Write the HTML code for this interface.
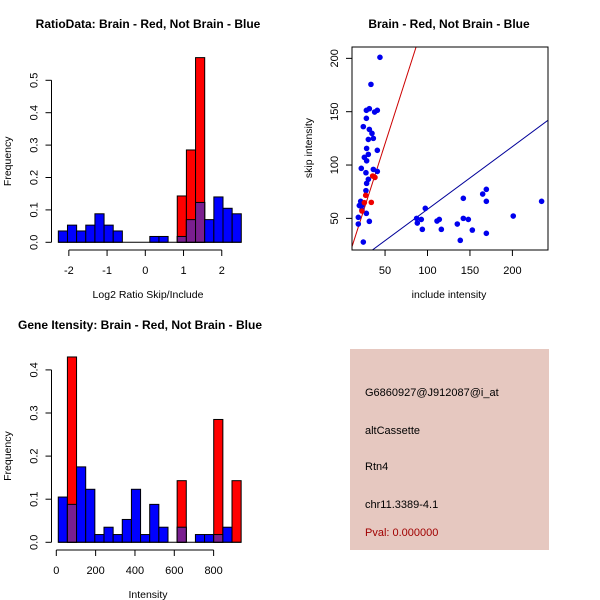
<!DOCTYPE html>
<html><head><meta charset="utf-8"><style>
html,body{margin:0;padding:0;background:#fff;}
svg{display:block;font-family:"Liberation Sans",sans-serif;}
</style></head><body>
<svg id="s" width="600" height="600" xmlns="http://www.w3.org/2000/svg">
<rect x="350" y="349" width="199" height="201" fill="#e6c8c0"/>
<g font-size="11">
<text x="365" y="396">G6860927@J912087@i_at</text>
<text x="365" y="434">altCassette</text>
<text x="365" y="470">Rtn4</text>
<text x="365" y="508">chr11.3389-4.1</text>
<text x="365" y="536" fill="#a00000">Pval: 0.000000</text>
</g>
</svg>
<script>
// Histogram 1: log2 ratio
const h1Blue=[0.035,0.053,0.035,0.053,0.088,0.053,0.035,0,0,0,0.018,0.018,0,0.018,0.07,0.123,0.07,0.14,0.105,0.088];
const h1Red=[0,0,0,0,0,0,0,0,0,0,0,0,0,0.143,0.285,0.57,0,0,0,0];
const h1Start=-2.275, h1Width=0.2393;
const h1XTicks=[-2,-1,0,1,2];
const h1YTicks=[0,0.1,0.2,0.3,0.4,0.5];
// Histogram 2: intensity
const h2Blue=[0.105,0.088,0.175,0.123,0.018,0.035,0.018,0.053,0.123,0.018,0.088,0.035,0,0.035,0,0.018,0.018,0.018,0.035,0];
const h2Red=[0,0.43,0,0,0,0,0,0,0,0,0,0,0,0.143,0,0,0,0.285,0,0.143];
const h2Start=10, h2Width=46.5;
const h2XTicks=[0,200,400,600,800];
const h2YTicks=[0,0.1,0.2,0.3,0.4];
// Scatter
const scBlueX=[44,33.4,28,31.5,37.7,40.9,28,24.4,31.5,34.6,30.3,36.2,28.3,40.9,30.3,25.6,28.3,22,36.2,40.9,27.5,30.3,28.3,27.5,21.3,22.8,19.7,22.8,18.5,18.5,28,31.5,24.4,87.2,88,92.7,93.9,97.4,111.2,113.9,116.3,135.1,142.2,142.2,138.6,148.1,152.8,165,169.3,169.3,169.3,201,234.4];
const scBlueY=[201,175.6,151.3,152.8,149.7,151.3,143.8,136,133.4,129.7,124,125,115.6,113.8,110,107.2,104,96.9,95.9,94,92.8,86.6,82.8,76,66,62,62,57.8,51,44.7,54.7,47.2,27.8,50,45.6,49,39.7,59.4,47.5,49,39.7,44.7,68.8,50,29.4,49,39,72.8,77.2,66,36,52.2,66];
const scRedX=[27.2,25.6,33.8,38.1,35.4,22.8];
const scRedY=[71.6,64.7,65,88.4,89.7,56.9];
const redLine=[2.48,-4];
const blueLine=[0.588,-0.3];
const scXTicks=[50,100,150,200];
const scYTicks=[50,100,150,200];

const NS="http://www.w3.org/2000/svg";
const svg=document.getElementById('s');
function mk(tag,attrs,parent){const e=document.createElementNS(NS,tag);for(const k in attrs)e.setAttribute(k,attrs[k]);(parent||svg).appendChild(e);return e;}
function txt(x,y,s,attrs){const e=mk('text',Object.assign({x:x,y:y,'font-size':11},attrs||{}));e.textContent=s;return e;}

function hist(blue,red,start,width,xS,yS,xTicks,yTicks,axisY,axisX,title,tx,ty,xlab,xlx,xly,name){
  const g=mk('g',{});
  
  
  const y0=yS(0);
  for(let i=0;i<blue.length;i++){
    const x1=xS(start+i*width),x2=xS(start+(i+1)*width);
    const b=blue[i],r=red[i];
    if(b>0){const e=mk('rect',{x:x1,y:yS(b),width:x2-x1,height:y0-yS(b),fill:'#0000ff',stroke:'#000','stroke-width':1},g);
      }
    if(r>0){const e=mk('rect',{x:x1,y:yS(r),width:x2-x1,height:y0-yS(r),fill:'#ff0000',stroke:'#000','stroke-width':1},g);
      }
    if(r>0&&b>0){const m=Math.min(r,b);const e=mk('rect',{x:x1,y:yS(m),width:x2-x1,height:y0-yS(m),fill:'#7a1f8f',stroke:'#000','stroke-width':1},g);
      }
  }
  mk('line',{x1:xS(start),x2:xS(start+blue.length*width),y1:y0,y2:y0,stroke:'#000'},g);
  const xa=mk('g',{},g);
  
  mk('line',{x1:xS(xTicks[0]),x2:xS(xTicks[xTicks.length-1]),y1:axisY,y2:axisY,stroke:'#000'},xa);
  xTicks.forEach(t=>{mk('line',{x1:xS(t),x2:xS(t),y1:axisY,y2:axisY+6,stroke:'#000'},xa);txt(xS(t),axisY+24,String(t),{'text-anchor':'middle'});});
  const ya=mk('g',{},g);
  
  mk('line',{x1:axisX,x2:axisX,y1:yS(yTicks[0]),y2:yS(yTicks[yTicks.length-1]),stroke:'#000'},ya);
  yTicks.forEach(t=>{const y=yS(t);mk('line',{x1:axisX-6,x2:axisX,y1:y,y2:y,stroke:'#000'},ya);
    const lx=axisX-14;
    const e=txt(lx,y,t.toFixed(1),{'text-anchor':'middle',transform:'rotate(-90 '+lx+' '+y+')'});});
  const tt=txt(tx,ty,title,{'font-weight':'bold','font-size':12,'text-anchor':'middle'});
  const xl=txt(xlx,xly,xlab,{'text-anchor':'middle','font-size':10.5});
  const my=(yS(yTicks[0])+yS(yTicks[yTicks.length-1]))/2;
  const yl=txt(11,my,'Frequency',{'text-anchor':'middle','font-size':10.5,transform:'rotate(-90 11 '+my+')'});
  
}
const h1x=v=>145.3+v*38.23, h1y=v=>242.3-v*324;
hist(h1Blue,h1Red,h1Start,h1Width,h1x,h1y,h1XTicks,h1YTicks,250,51.5,'RatioData: Brain - Red, Not Brain - Blue',148,28,'Log2 Ratio Skip/Include',148,298,'ratio-histogram');
const h2x=v=>56.3+v*0.19665, h2y=v=>542.3-v*431;
hist(h2Blue,h2Red,h2Start,h2Width,h2x,h2y,h2XTicks,h2YTicks,550,51.5,'Gene Itensity: Brain - Red, Not Brain - Blue',140,329,'Intensity',148,598,'intensity-histogram');

const sx=v=>342.6+v*0.849, sy=v=>271.7-v*1.0667;
const L=352,R=548,T=47,B=250;
const sg=mk('g',{});


const cp=mk('clipPath',{id:'cp'},sg);mk('rect',{x:L,y:T,width:R-L,height:B-T},cp);
const lg=mk('g',{'clip-path':'url(#cp)'},sg);
function fline(p,col,name){const xa=0,xb=300;const e=mk('line',{x1:sx(xa),y1:sy(p[0]*xa+p[1]),x2:sx(xb),y2:sy(p[0]*xb+p[1]),stroke:col,'stroke-width':1},lg);
  }
fline(redLine,'#cc0000','red-fit-line');
fline(blueLine,'#000099','blue-fit-line');
scBlueX.forEach((x,i)=>{const e=mk('circle',{cx:sx(x),cy:sy(scBlueY[i]),r:2.8,fill:'#0000ee'},lg);
  });
scRedX.forEach((x,i)=>{const e=mk('circle',{cx:sx(x),cy:sy(scRedY[i]),r:2.8,fill:'#ee0000'},lg);
  });
mk('rect',{x:L,y:T,width:R-L,height:B-T,fill:'none',stroke:'#000'},sg);
scXTicks.forEach(t=>{mk('line',{x1:sx(t),x2:sx(t),y1:B,y2:B+6,stroke:'#000'},sg);const e=txt(sx(t),B+24,String(t),{'text-anchor':'middle'});});
scYTicks.forEach(t=>{const y=sy(t);mk('line',{x1:L-6,x2:L,y1:y,y2:y,stroke:'#000'},sg);const lx=L-14;const e=txt(lx,y,String(t),{'text-anchor':'middle',transform:'rotate(-90 '+lx+' '+y+')'});});
const st=txt(449,28,'Brain - Red, Not Brain - Blue',{'font-weight':'bold','font-size':12,'text-anchor':'middle'});


const sxl=txt(449,298,'include intensity',{'text-anchor':'middle','font-size':10.5});


const syl=txt(312,148,'skip intensity',{'text-anchor':'middle','font-size':10.5,transform:'rotate(-90 312 148)'});


</script>
</body></html>
